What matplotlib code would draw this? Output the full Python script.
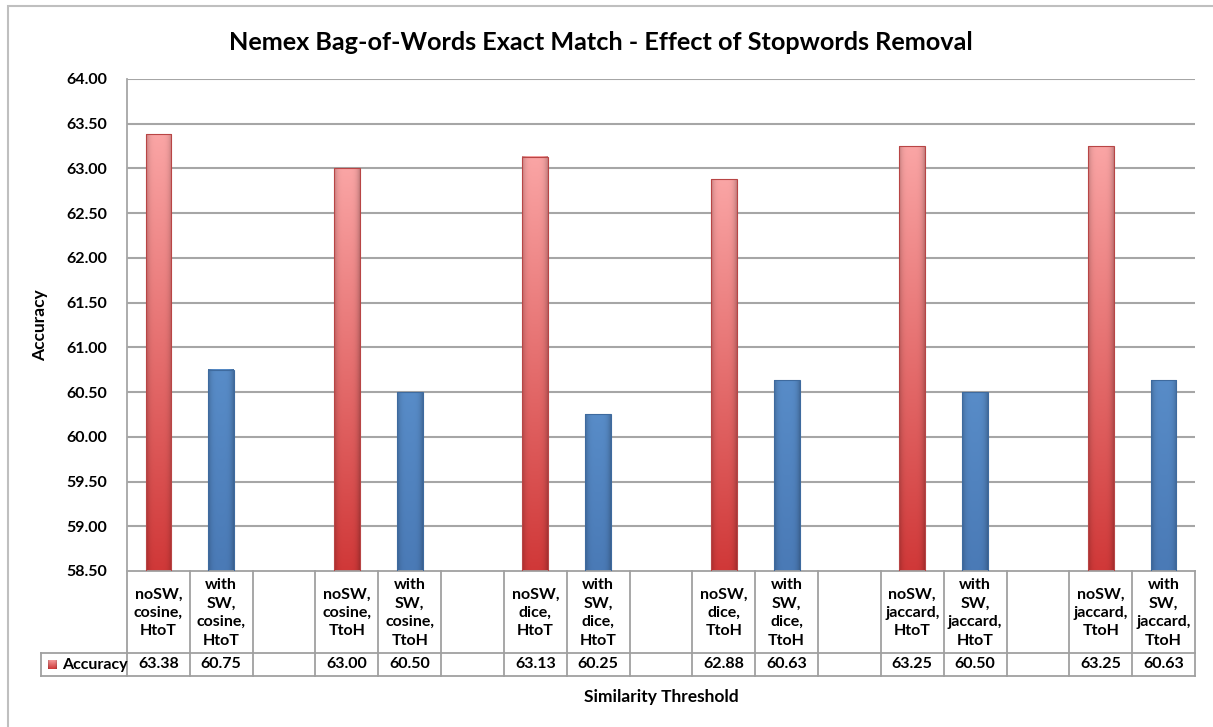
import matplotlib
matplotlib.use("Agg")
import matplotlib.pyplot as plt
import matplotlib.transforms as mtransforms
import numpy as np

plt.rcParams['font.family'] = ['Lato', 'DejaVu Sans']
plt.rcParams['font.weight'] = 'bold'

# categories (empty strings are the gaps between groups)
categories = [
    "noSW,\ncosine,\nHtoT", "with\nSW,\ncosine,\nHtoT", "",
    "noSW,\ncosine,\nTtoH", "with\nSW,\ncosine,\nTtoH", "",
    "noSW,\ndice,\nHtoT", "with\nSW,\ndice,\nHtoT", "",
    "noSW,\ndice,\nTtoH", "with\nSW,\ndice,\nTtoH", "",
    "noSW,\njaccard,\nHtoT", "with\nSW,\njaccard,\nHtoT", "",
    "noSW,\njaccard,\nTtoH", "with\nSW,\njaccard,\nTtoH",
]
accuracy = [63.38, 60.75, None, 63.00, 60.50, None, 63.13, 60.25, None,
            62.88, 60.63, None, 63.25, 60.50, None, 63.25, 60.63]
yticks = [58.5, 59.0, 59.5, 60.0, 60.5, 61.0, 61.5, 62.0, 62.5, 63.0, 63.5, 64.0]

W, H = 1213, 727
fig = plt.figure(figsize=(W / 100, H / 100), dpi=100)
fig.patch.set_facecolor('white')

def fx(px):
    return px / W

def fy(py):
    return 1 - py / H

ax_left, ax_right, ax_top, ax_bot = 127, 1195, 79, 571
ax = fig.add_axes([fx(ax_left), fy(ax_bot), fx(ax_right - ax_left), (ax_bot - ax_top) / H])
ax.set_xlim(-0.5, len(categories) - 0.5)
ax.set_ylim(yticks[0], yticks[-1])

grid_c = '#A6A6A6'
for yv in yticks[1:]:
    ax.axhline(yv, color=grid_c, lw=1.5, zorder=0)
for s in ['top', 'right', 'bottom']:
    ax.spines[s].set_visible(False)
ax.spines['left'].set_color(grid_c)
ax.spines['left'].set_linewidth(1.3)
ax.set_xticks([])
ax.set_yticks(yticks)
ax.set_yticklabels([f"{v:.2f}" for v in yticks], fontsize=11.5, fontweight='bold')
ax.tick_params(axis='y', length=0, pad=14)


def bar_image(top_rgb, bot_rgb, n=200, m=40):
    t = np.linspace(0, 1, n)[:, None]  # 0 at top row of image
    top = np.array(top_rgb) / 255.0
    bot = np.array(bot_rgb) / 255.0
    col = top[None, None, :] * (1 - t[..., None]) + bot[None, None, :] * t[..., None]
    u = np.linspace(0, 1, m)[None, :]
    shade = 1 - 0.22 * np.abs(2 * u - 1) ** 4
    img = col * shade[..., None]
    return np.clip(img, 0, 1)


red_img = bar_image((250, 165, 165), (208, 56, 56))
blue_img = bar_image((88, 140, 200), (74, 122, 182))
bw = 0.41
bars = [(i, v) for i, v in enumerate(accuracy) if v is not None]
for k, (i, v) in enumerate(bars):
    img = red_img if k % 2 == 0 else blue_img
    edge = '#B84545' if k % 2 == 0 else '#3E6A9E'
    ax.imshow(img, extent=[i - bw / 2, i + bw / 2, yticks[0], v], aspect='auto',
              interpolation='bilinear', zorder=2)
    ax.add_patch(plt.Rectangle((i - bw / 2, yticks[0]), bw, v - yticks[0], fill=False,
                               edgecolor=edge, lw=0.8, zorder=3))
ax.set_xlim(-0.5, len(categories) - 0.5)
ax.set_ylim(yticks[0], yticks[-1])

# data table below the plot
trans = mtransforms.blended_transform_factory(ax.transData, fig.transFigure)
row1_top, row1_bot, row2_bot = 571, 653, 676
tc = '#A0A0A0'
for j in range(len(categories) + 1):
    x = j - 0.5
    ax.plot([x, x], [fy(row1_top), fy(row2_bot)], color=tc, lw=1.3,
            transform=trans, clip_on=False)
ax.plot([-0.5, len(categories) - 0.5], [fy(row1_top), fy(row1_top)], color=tc, lw=1.3,
        transform=trans, clip_on=False)
fig.add_artist(plt.Line2D([fx(41), fx(ax_right)], [fy(row1_bot), fy(row1_bot)], color=tc, lw=1.3))
fig.add_artist(plt.Line2D([fx(41), fx(ax_right)], [fy(row2_bot), fy(row2_bot)], color=tc, lw=1.3))
fig.add_artist(plt.Line2D([fx(41), fx(41)], [fy(row1_bot), fy(row2_bot)], color=tc, lw=1.3))

for i, (c, v) in enumerate(zip(categories, accuracy)):
    if c:
        ax.text(i, fy((row1_top + row1_bot) / 2 + 1), c, transform=trans, ha='center',
                va='center', fontsize=11.5, fontweight='bold', linespacing=1.4)
    if v is not None:
        ax.text(i, fy((row1_bot + row2_bot) / 2), f"{v:.2f}", transform=trans,
                ha='center', va='center', fontsize=11.5, fontweight='bold')

# legend key in the table
key_ax = fig.add_axes([fx(48), fy(669), fx(9), 9 / H])
key_ax.imshow(red_img, aspect='auto', extent=[0, 1, 0, 1])
key_ax.axis('off')
fig.text(fx(62), fy((row1_bot + row2_bot) / 2), "Accuracy", ha='left', va='center',
         fontsize=11.5, fontweight='bold')

fig.text(fx(601), fy(43), "Nemex Bag-of-Words Exact Match - Effect of Stopwords Removal",
         ha='center', va='center', fontsize=18.2, fontweight='bold')
fig.text(fx(40), fy(325), "Accuracy", rotation=90, ha='center', va='center',
         fontsize=12.5, fontweight='bold')
fig.text(fx(661), fy(697), "Similarity Threshold", ha='center', va='center',
         fontsize=12.5, fontweight='bold')

# outer chart border
fig.add_artist(plt.Rectangle((fx(8), fy(740)), fx(1220), 734 / H, fill=False,
                             edgecolor='#BFBFBF', lw=1.5))

fig.savefig("out.png", dpi=100, facecolor='white')
